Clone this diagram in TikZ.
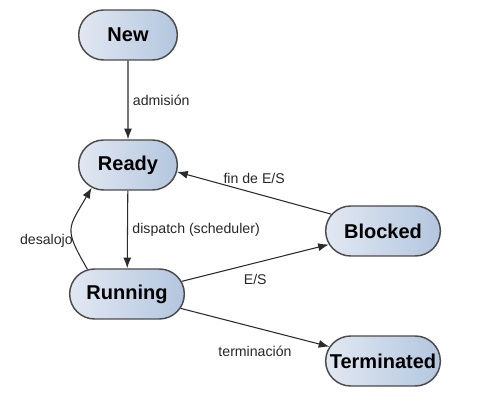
\documentclass[tikz,border=0pt]{standalone}
\usepackage{fontspec}
\setmainfont{Liberation Sans}
\usetikzlibrary{shapes.misc,arrows.meta}
\definecolor{stateA}{HTML}{E2E8F2}
\definecolor{stateB}{HTML}{B3C6DF}
\definecolor{edgecol}{HTML}{2B2B2B}
\tikzset{
    state/.style={rounded rectangle, draw=edgecol!85, line width=1.1pt,
        left color=stateA, right color=stateB,
        minimum width=78pt, minimum height=37.5pt, inner sep=2pt,
        font=\fontsize{15}{18}\selectfont\bfseries},
    trans/.style={draw=edgecol, line width=0.8pt, -{Latex[length=8pt,width=6pt]}},
    lbl/.style={font=\fontsize{10.6}{12}\selectfont, text=black!85}
}
\begin{document}
\begin{tikzpicture}[x=0.75pt, y=0.75pt]
        \useasboundingbox (0, 0) rectangle (502, 417);
        \node[state] (new) at (128, 382) {New};
        \node[state] (ready) at (128, 252) {Ready};
        \node[state, minimum width=90pt] (running) at (127, 123) {Running};
        \node[state, minimum width=90pt] (blocked) at (383, 186) {Blocked};
        \node[state, minimum width=90pt] (terminated) at (383, 56) {Terminated};
        \draw[trans] (new) -- (ready) node[midway, right, lbl] {admisión};
        \draw[trans] (ready) -- (running) node[midway, right, lbl] {dispatch (scheduler)};
        \draw[trans] (running.148) to[out=120, in=240, looseness=1.5] node[pos=0.3, left, lbl, inner sep=0pt] {desalojo} (ready.212);
        \draw[trans] (blocked.162) -- (ready.-8) node[midway, above=3pt, lbl] {fin de E/S};
        \draw[trans] (running.13) -- (blocked.194) node[midway, below=5pt, lbl] {E/S};
        \draw[trans] (running.-15) -- (terminated.165) node[midway, below=10pt, lbl] {terminación};
    \end{tikzpicture}
\end{document}
